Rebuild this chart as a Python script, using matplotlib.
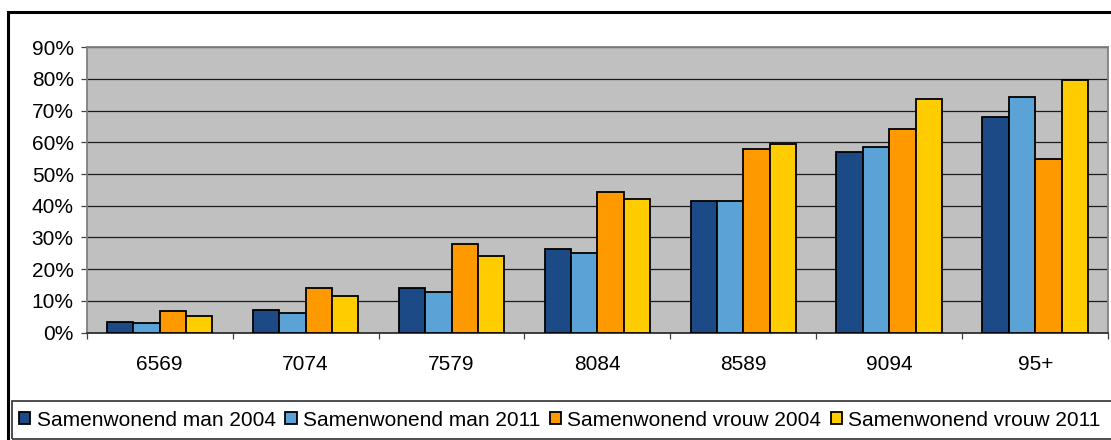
import matplotlib
matplotlib.use('Agg')
import matplotlib.pyplot as plt
from matplotlib.patches import Rectangle
import numpy as np

plt.rcParams['font.family'] = ['Liberation Sans', 'DejaVu Sans']

# data (percent)
categories = ['6569', '7074', '7579', '8084', '8589', '9094', '95+']
series_names = ['Samenwonend man 2004', 'Samenwonend man 2011',
                'Samenwonend vrouw 2004', 'Samenwonend vrouw 2011']
man_2004 = [3.5, 7.3, 14.2, 26.3, 41.5, 56.8, 67.9]
man_2011 = [3.0, 6.2, 12.9, 25.1, 41.5, 58.4, 74.3]
vrouw_2004 = [6.7, 14.2, 27.9, 44.2, 57.9, 64.3, 54.7]
vrouw_2011 = [5.2, 11.6, 24.2, 42.1, 59.4, 73.7, 79.5]
yticks = [0, 10, 20, 30, 40, 50, 60, 70, 80, 90]

colors = ['#1B4A87', '#5BA3D6', '#FF9900', '#FFCC00']

fig = plt.figure(figsize=(11.11, 4.4), dpi=100)
ax = fig.add_axes([0.078, 0.2439, 0.9195, 0.6491])
ax.set_facecolor('#C0C0C0')

x = np.arange(len(categories))
w = 0.181
for i, (vals, name) in enumerate(zip([man_2004, man_2011, vrouw_2004, vrouw_2011], series_names)):
    ax.bar(x + (i - 1.5) * w, vals, w, color=colors[i], edgecolor='black',
           linewidth=1.3, label=name, zorder=3)

ax.set_xlim(-0.5, len(categories) - 0.5)
ax.set_ylim(0, 90)
ax.set_yticks(yticks)
ax.set_yticklabels([f'{t}%' for t in yticks])
ax.yaxis.grid(True, color='#1a1a1a', linewidth=0.9, zorder=1)
ax.set_axisbelow(True)

ax.set_xticks(x)
ax.set_xticklabels(categories)
ax.set_xticks(np.arange(-0.5, len(categories)), minor=True)
ax.tick_params(axis='x', which='major', length=0, pad=16, labelsize=15)
ax.tick_params(axis='x', which='minor', length=4.3, width=0.9, color='#404040')
ax.tick_params(axis='y', length=4.3, width=0.9, color='#404040', pad=5, labelsize=15)

for s in ['top', 'right', 'left']:
    ax.spines[s].set_color('#808080')
    ax.spines[s].set_linewidth(1.3)
ax.spines['bottom'].set_color('#303030')
ax.spines['bottom'].set_linewidth(1.3)

# outer chart frame and legend box
fig.patches.append(Rectangle((8 / 1111, -0.05), 1.2, 1 - 12 / 440 + 0.05,
                             transform=fig.transFigure, fill=False,
                             edgecolor='black', linewidth=2.2))
fig.patches.append(Rectangle((12 / 1111, 1 - 439 / 440), 1.2, 38 / 440,
                             transform=fig.transFigure, fill=False,
                             edgecolor='#404040', linewidth=1.3))

fig.legend(loc='center left', bbox_to_anchor=(19 / 1111, 1 - 420 / 440), ncol=4,
           frameon=False, fontsize=15, handlelength=0.55, handleheight=0.55,
           handletextpad=0.3, columnspacing=0.45, borderaxespad=0, borderpad=0)

fig.savefig('out.png', dpi=100)
